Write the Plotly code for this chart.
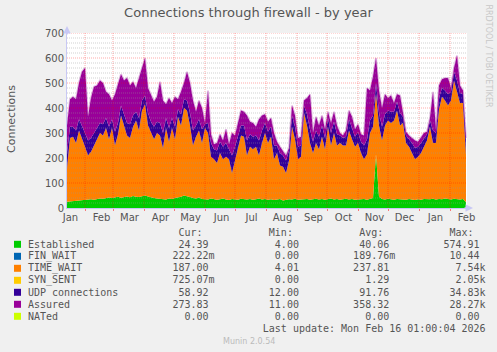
import numpy as np
import pandas as pd
import plotly.graph_objects as go

# ---------------- data ----------------
start_date = "2025-01-14"
n_points = 134
dates = pd.date_range(start_date, periods=n_points, freq="3D")

established = [
    25, 26, 28, 30, 32, 33, 32, 34, 35, 33,
    36, 38, 37, 40, 42, 40, 43, 45, 41, 44,
    46, 43, 48, 45, 44, 47, 50, 46, 42, 40,
    38, 36, 35, 34, 38, 36, 40, 42, 45, 50,
    48, 44, 40, 38, 42, 36, 35, 34, 38, 36,
    33, 35, 38, 34, 32, 36, 35, 33, 37, 35,
    34, 36, 33, 35, 38, 34, 36, 33, 35, 32,
    34, 36, 30, 33, 35, 34, 37, 33, 35, 34,
    36, 33, 35, 37, 34, 36, 33, 35, 38, 34,
    36, 33, 35, 37, 34, 36, 33, 35, 34, 36,
    33, 35, 40, 215, 45, 36, 34, 37, 35, 33,
    36, 34, 35, 33, 36, 34, 32, 35, 33, 36,
    34, 35, 37, 34, 36, 35, 38, 36, 34, 37,
    35, 34, 36, 24,
]

time_wait = [
    135, 254, 257, 230, 278, 247, 213, 176, 190, 217,
    239, 262, 253, 280, 233, 280, 207, 250, 329, 286,
    244, 237, 277, 305, 266, 343, 365, 284, 258, 235,
    262, 254, 205, 286, 227, 284, 235, 323, 285, 350,
    342, 286, 210, 247, 268, 224, 285, 266, 167, 159,
    147, 185, 157, 171, 163, 104, 155, 212, 253, 250,
    176, 209, 202, 210, 172, 226, 264, 227, 250, 163,
    186, 134, 135, 107, 155, 291, 238, 162, 170, 346,
    294, 227, 185, 223, 201, 249, 202, 290, 212, 266,
    214, 227, 215, 213, 276, 239, 212, 225, 186, 159,
    182, 265, 285, 245, 285, 234, 296, 313, 305, 317,
    354, 296, 305, 227, 209, 186, 163, 170, 187, 209,
    236, 290, 223, 226, 359, 410, 392, 374, 396, 473,
    425, 386, 384, 190,
]

udp = [
    60, 45, 40, 50, 45, 50, 55, 60, 55, 50,
    45, 40, 45, 40, 50, 35, 55, 45, 40, 45,
    50, 55, 45, 35, 50, 40, 35, 50, 45, 50,
    45, 50, 60, 40, 55, 40, 50, 30, 45, 35,
    40, 50, 60, 45, 45, 55, 15, 40, 55, 40,
    50, 45, 50, 55, 40, 70, 55, 45, 40, 45,
    60, 50, 50, 45, 60, 50, 40, 45, 40, 55,
    30, 50, 45, 50, 40, 45, 50, 50, 45, 30,
    45, 55, 45, 50, 50, 45, 45, 35, 50, 45,
    45, 30, 30, 35, 45, 45, 40, 45, 45, 55,
    60, 50, 45, 40, 50, 55, 45, 40, 45, 35,
    35, 50, 25, 30, 30, 40, 45, 40, 40, 35,
    25, 25, 50, 40, 45, 35, 40, 45, 35, 35,
    50, 40, 35, 59,
]

assured = [
    330, 435, 445, 435, 500, 545, 560, 365, 440, 485,
    490, 510, 500, 465, 455, 430, 455, 500, 535, 510,
    520, 490, 505, 480, 520, 560, 600, 480, 450, 425,
    445, 505, 430, 415, 440, 420, 445, 435, 465, 500,
    545, 500, 430, 385, 430, 400, 340, 470, 295, 255,
    260, 295, 270, 315, 255, 300, 290, 340, 390, 385,
    370, 345, 340, 325, 355, 370, 375, 345, 360, 300,
    265, 245, 225, 210, 240, 410, 370, 280, 285, 430,
    440, 455, 300, 365, 330, 370, 315, 385, 340, 385,
    330, 300, 290, 310, 390, 365, 315, 335, 295, 290,
    480, 470, 525, 600, 470, 400, 455, 440, 450, 420,
    455, 450, 380, 305, 290, 280, 270, 265, 285, 300,
    305, 360, 465, 315, 490, 515, 520, 520, 480, 560,
    610, 490, 470, 280,
]

series_names = ["Established", "FIN_WAIT", "TIME_WAIT", "SYN_SENT",
                "UDP connections", "Assured", "NATed"]
series_colors = ["#00CC00", "#0066B3", "#FF8000", "#FFCC00",
                 "#330099", "#990099", "#CCFF00"]
cur_vals = ["24.39 ", "222.22m", "187.00 ", "725.07m", "58.92 ", "273.83 ", "0.00 "]
min_vals = ["4.00 ", "0.00 ", "4.01 ", "0.00 ", "12.00 ", "11.00 ", "0.00 "]
avg_vals = ["40.06 ", "189.76m", "237.81 ", "1.29 ", "91.76 ", "358.32 ", "0.00 "]
max_vals = ["574.91 ", "10.44 ", "7.54k", "2.05k", "34.83k", "28.27k", "0.00 "]

month_labels = ["Jan", "Feb", "Mar", "Apr", "May", "Jun", "Jul",
                "Aug", "Sep", "Oct", "Nov", "Dec", "Jan", "Feb"]
month_label_dates = [pd.Timestamp(f"{d.year}-{d.month:02d}-17 12:00") for d in
                     pd.date_range("2025-01-01", periods=14, freq="MS")]
month_starts = list(pd.date_range("2025-02-01", periods=13, freq="MS"))
y_major = [100, 200, 300, 400, 500, 600, 700]
y_minor = [v for v in range(20, 700, 20) if v % 100 != 0]

title_text = "Connections through firewall - by year"
last_update = "Last update: Mon Feb 16 01:00:04 2026"

# ---------------- geometry helpers ----------------
W, H = 497, 352
ML, MR, MT, MB = 67, 30, 33, 144
PW, PH = W - ML - MR, H - MT - MB


def px(xp):
    return (xp - ML) / PW


def py(yp):
    return (H - MB - yp) / PH


# ---------------- traces ----------------
est = np.array(established, dtype=float)
top_tw = est + np.array(time_wait, dtype=float)
top_udp = top_tw + np.array(udp, dtype=float)
ass = np.array(assured, dtype=float)

fig = go.Figure()
fig.add_trace(go.Scatter(x=dates, y=est, mode="lines", line=dict(width=0, color="#00CC00"),
                         fill="tozeroy", fillcolor="#00CC00", hoverinfo="skip", showlegend=False))
fig.add_trace(go.Scatter(x=dates, y=top_tw, mode="lines", line=dict(width=0, color="#FF8000"),
                         fill="tonexty", fillcolor="#FF8000", hoverinfo="skip", showlegend=False))
fig.add_trace(go.Scatter(x=dates, y=top_udp, mode="lines", line=dict(width=0, color="#330099"),
                         fill="tonexty", fillcolor="#330099", hoverinfo="skip", showlegend=False))
fig.add_trace(go.Scatter(x=dates, y=ass, mode="lines", line=dict(width=0, color="#990099"),
                         fill="tonexty", fillcolor="#990099", hoverinfo="skip", showlegend=False))
fig.add_trace(go.Scatter(x=dates, y=ass, mode="lines",
                         line=dict(width=2, color="rgba(153,0,153,0.25)"),
                         hoverinfo="skip", showlegend=False))

# ---------------- grid (drawn above data like rrdtool) ----------------
shapes = []
for v in y_minor:
    shapes.append(dict(type="line", xref="paper", yref="y", x0=0, x1=1, y0=v, y1=v,
                       line=dict(color="rgba(150,150,150,0.45)", width=1, dash="1px,1px"),
                       layer="above"))
for v in y_major:
    shapes.append(dict(type="line", xref="paper", yref="y", x0=0, x1=1, y0=v, y1=v,
                       line=dict(color="rgba(255,0,0,0.33)", width=1, dash="1px,1px"),
                       layer="above"))
for d in month_starts:
    shapes.append(dict(type="line", xref="x", yref="paper", x0=d, x1=d, y0=0, y1=1,
                       line=dict(color="rgba(255,0,0,0.33)", width=1, dash="1px,1px"),
                       layer="above"))

# legend squares
legend_rows_y = [244.3 + 12 * i for i in range(7)]
for name, col, yy in zip(series_names, series_colors, legend_rows_y):
    shapes.append(dict(type="rect", xref="paper", yref="paper",
                       x0=px(14), x1=px(21), y0=py(yy + 3.5), y1=py(yy - 3.5),
                       fillcolor=col, line=dict(width=0), layer="above"))

fig.update_layout(shapes=shapes)

# ---------------- annotations ----------------
mono = dict(family="DejaVu Sans Mono", size=10, color="#555555")
NB = "\u00a0"
ann = []


def txt(s):
    return s.replace(" ", NB)


header = f"{'':25}{'Cur:':<15}{'Min:':<15}{'Avg:':<15}{'Max:'}"
ann.append(dict(xref="paper", yref="paper", x=px(26), y=py(232.5), xanchor="left", yanchor="middle",
                text=txt(header), showarrow=False, font=mono))
for i, name in enumerate(series_names):
    row = f"{name:<24}{cur_vals[i]:>7}{min_vals[i]:>15}{avg_vals[i]:>15}{max_vals[i]:>15}"
    ann.append(dict(xref="paper", yref="paper", x=px(26), y=py(legend_rows_y[i]), xanchor="left",
                    yanchor="middle", text=txt(row), showarrow=False, font=mono))
ann.append(dict(xref="paper", yref="paper", x=px(26), y=py(328.3), xanchor="left", yanchor="middle",
                text=txt(f"{last_update:>76}"), showarrow=False, font=mono))

ann.append(dict(xref="paper", yref="paper", x=px(248.5), y=py(341), xanchor="center", yanchor="middle",
                text="Munin 2.0.54", showarrow=False,
                font=dict(family="DejaVu Sans", size=8, color="#BBBBBB")))
ann.append(dict(xref="paper", yref="paper", x=px(488.5), y=py(56), xanchor="center", yanchor="middle",
                text="RRDTOOL / TOBI OETIKER", showarrow=False, textangle=90,
                font=dict(family="DejaVu Sans", size=8, color="#C8C8C8")))
ann.append(dict(xref="paper", yref="paper", x=px(11), y=py(119), xanchor="center", yanchor="middle",
                text="Connections", showarrow=False, textangle=-90,
                font=dict(family="DejaVu Sans", size=11, color="#555555")))
# axis arrows
ann.append(dict(xref="paper", yref="paper", x=px(67), y=py(26), ax=0, ay=10, text="",
                showarrow=True, arrowhead=2, arrowsize=1, arrowwidth=1.5, arrowcolor="#C8C8F4"))
ann.append(dict(xref="paper", yref="paper", x=px(473), y=py(208), ax=-10, ay=0, text="",
                showarrow=True, arrowhead=2, arrowsize=1, arrowwidth=1.5, arrowcolor="#C8C8F4"))

fig.update_layout(
    width=W, height=H,
    margin=dict(l=ML, r=MR, t=MT, b=MB, pad=0),
    paper_bgcolor="#F0F0F0",
    plot_bgcolor="#FFFFFF",
    showlegend=False,
    title=dict(text=title_text, x=0.5, xref="container", xanchor="center",
               y=1 - 12.5 / H, yref="container", yanchor="middle",
               font=dict(family="DejaVu Sans", size=13, color="#555555")),
    annotations=ann,
    xaxis=dict(type="date", range=[dates[0], pd.Timestamp("2026-02-18")],
               tickmode="array", tickvals=month_label_dates, ticktext=month_labels,
               showgrid=False, zeroline=False, ticks="",
               showline=True, linecolor="#C8C8F4", linewidth=1,
               tickfont=dict(family="DejaVu Sans", size=10, color="#555555"),
               minor=dict(tickmode="array", tickvals=month_starts, ticks="outside",
                          ticklen=2, tickcolor="rgba(255,0,0,0.5)", showgrid=False),
               fixedrange=True),
    yaxis=dict(range=[0, 700], tickmode="array", tickvals=[0] + y_major,
               showgrid=False, zeroline=False, ticks="",
               showline=True, linecolor="#C8C8F4", linewidth=1,
               tickfont=dict(family="DejaVu Sans", size=10, color="#555555"),
               fixedrange=True),
)

fig.write_html("out.html")
